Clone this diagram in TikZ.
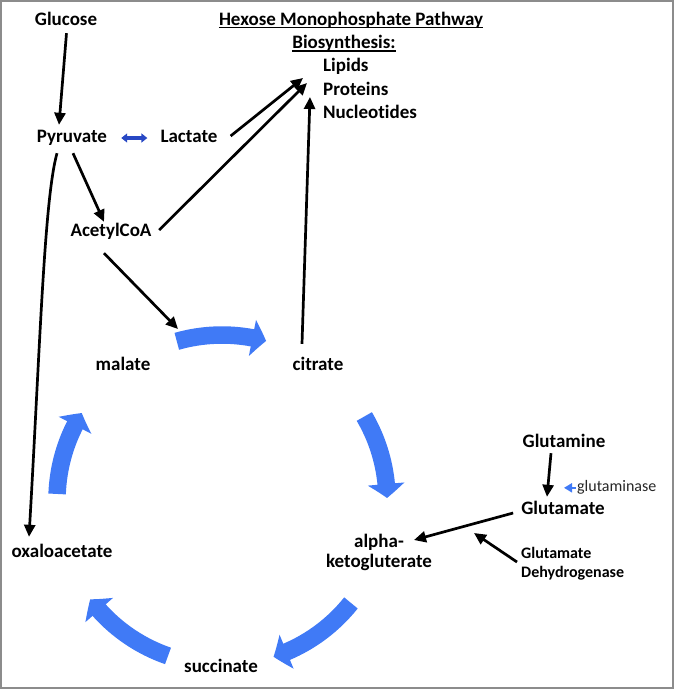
\documentclass[tikz,border=0pt]{standalone}
\usepackage{fontspec}
\setmainfont{Carlito}[Ligatures=CommonOff]
\usetikzlibrary{arrows.meta,bending,calc}
\definecolor{cyc}{RGB}{64,122,246}
\definecolor{dblue}{RGB}{40,72,196}
\definecolor{framegray}{RGB}{140,140,140}
\begin{document}
\begin{tikzpicture}[x=1pt,y=-1pt,
  lbl/.style={inner sep=0pt, text height=13pt, text depth=4pt, anchor=base, font=\bfseries\fontsize{19}{23}\selectfont},
  smalllbl/.style={inner sep=0pt, font=\bfseries\fontsize{16}{19}\selectfont, align=left, anchor=west},
  arr/.style={line width=2.7pt, -{Triangle[length=12pt,width=11pt]}},
  cycarr/.style={line width=17.5pt, cyc, -{Triangle[length=14pt,width=36pt,bend]}},
  uline/.style={line width=1.4pt}
]
\useasboundingbox (0,0) rectangle (674,689);
\draw[framegray, line width=1.5pt] (1,1) rectangle (673,688);

% labels
\node[lbl] (glucose) at (66,25) {Glucose};
\node[lbl] (title) at (351,25) {Hexose Monophosphate Pathway};
\node[lbl] (biosyn) at (344,48) {Biosynthesis:};
\node[lbl, anchor=base west] (lipids) at (323,71) {Lipids};
\node[lbl, anchor=base west] (proteins) at (323,95) {Proteins};
\node[lbl, anchor=base west] (nucleo) at (323,118) {Nucleotides};
\node[lbl] (pyruvate) at (72,142) {Pyruvate};
\node[lbl] (lactate) at (189,142) {Lactate};
\node[lbl] (acetyl) at (111,236) {AcetylCoA};
\node[lbl] (malate) at (123,370) {malate};
\node[lbl] (citrate) at (318,370) {citrate};
\node[lbl] (glutamine) at (564,447) {Glutamine};
\node[lbl] (glutamate) at (563,514) {Glutamate};
\node[inner sep=0pt, align=center, font=\bfseries\fontsize{19}{20}\selectfont] (akg) at (379,552) {alpha-\\ketogluterate};
\node[lbl] (oxalo) at (62,557) {oxaloacetate};
\node[lbl] (succinate) at (221,672) {succinate};
\node[inner sep=0pt, anchor=base west, font=\fontsize{16}{19}\selectfont, text=black!85] (glutaminase) at (577,491) {glutaminase};
\node[smalllbl] (gdh) at (521,563.6) {Glutamate\\Dehydrogenase};

% underlines
\draw[uline] ($(title.base west)+(0,2.5)$) -- ($(title.base east)+(0,2.5)$);
\draw[uline] ($(biosyn.base west)+(0,2.8)$) -- ($(biosyn.base east)+(0,2.8)$);

% TCA cycle arrows
\coordinate (cc) at (222,500);
\draw[cycarr] ($(cc)+(-105.9:165)$) arc[start angle=-105.9, end angle=-74.5, radius=165];
\draw[cycarr] ($(cc)+(-30.4:165)$) arc[start angle=-30.4, end angle=-0.7, radius=165];
\draw[cycarr] ($(cc)+(38.6:165)$) arc[start angle=38.6, end angle=71.8, radius=165];
\draw[cycarr] ($(cc)+(109.1:165)$) arc[start angle=109.1, end angle=143, radius=165];
\draw[cycarr] ($(cc)+(-177.9:165)$) arc[start angle=-177.9, end angle=-148.2, radius=165];

\coordinate (tcain) at (178,329);
\coordinate (gdhtip) at (474,533);

% connectors
\draw[arr] ($(glucose.south)+(0.5,4)$) -- ($(pyruvate.north)+(-13,-4)$);
\draw[arr] ($(pyruvate.south)+(1,7)$) -- ($(acetyl.north)+(-7,-1)$);
\draw[arr] ($(lactate.east)+(13,-1.5)$) -- ($(lipids.west)+(-20,11.5)$);
\draw[arr] ($(acetyl.east)+(7.5,-1.5)$) -- ($(proteins.west)+(-16,-7.5)$);
\draw[arr] ($(acetyl.south)+(-7,13)$) -- (tcain);
\draw[arr] ($(citrate.north)+(-16,-13)$) -- ($(nucleo.west)+(-13,-16.5)$);
\draw[arr] ($(pyruvate.south)+(-15,7)$) .. controls (44,200) and (40,350) .. ($(oxalo.north)+(-33,-7)$);
\draw[arr] ($(glutamine.south)+(-13,2)$) -- ($(glutamate.north)+(-16,-4)$);
\draw[arr] ($(glutamate.west)+(-8,3.5)$) -- ($(akg.center)+(35,-12)$);
\draw[arr] ($(gdh.west)+(-4,-1.6)$) -- (gdhtip);
\draw[line width=2.2pt, cyc, -{Triangle[length=8pt,width=9pt]}] ($(glutaminase.west)+(-1,1)$) -- ($(glutaminase.west)+(-13,1)$);
\draw[line width=3.5pt, dblue, {Triangle[length=6pt,width=9pt]}-{Triangle[length=6pt,width=9pt]}] ($(pyruvate.east)+(14,0.5)$) -- ($(lactate.west)+(-13,0.5)$);
\end{tikzpicture}
\end{document}
